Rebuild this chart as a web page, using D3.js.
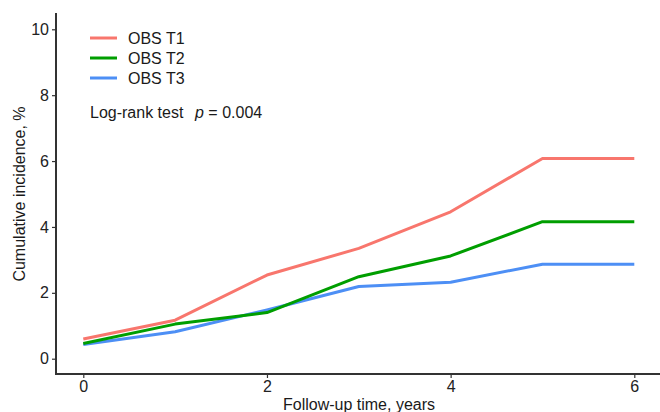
<!DOCTYPE html>
<html>
<head>
<meta charset="utf-8">
<script src="https://cdn.jsdelivr.net/npm/d3@7/dist/d3.min.js"></script>
<style>
  body { margin: 0; background: #fff; }
  svg text { font-family: "Liberation Sans", Arial, sans-serif; fill: #1a1a1a; }
</style>
</head>
<body>
<div id="chart"></div>
<script>
// follow-up years
var years = [0, 1, 2, 3, 4, 5, 6];

// cumulative incidence, %
var obsT1 = [0.60, 1.17, 2.54, 3.35, 4.46, 6.08, 6.08];
var obsT2 = [0.46, 1.05, 1.40, 2.49, 3.12, 4.16, 4.16];
var obsT3 = [0.43, 0.82, 1.48, 2.19, 2.32, 2.87, 2.87];

var seriesNames = ["OBS T1", "OBS T2", "OBS T3"];
var seriesColors = ["#F8766D", "#009E00", "#4D8FF5"];

var xTicks = [0, 2, 4, 6];
var yTicks = [0, 2, 4, 6, 8, 10];

var width = 660,
    height = 412;

var svg = d3.select("#chart").append("svg")
    .attr("width", width)
    .attr("height", height);

// y: 0 -> 358.7, 10 -> 29.3 ; x: 0 -> 83.3, 6 -> 634.3
var x = d3.scaleLinear().domain([0, 6]).range([83.3, 634.3]),
    y = d3.scaleLinear().domain([0, 10]).range([358.7, 29.3]);

var xAxis = d3.axisBottom(x).tickValues(xTicks).tickFormat(d3.format("d")).tickSize(4).tickPadding(3),
    yAxis = d3.axisLeft(y).tickValues(yTicks).tickFormat(d3.format("d")).tickSize(4).tickPadding(3);

var gx = svg.append("g")
    .attr("class", "axis axis--x")
    .attr("transform", "translate(0,374)")
    .call(xAxis);
gx.select(".domain").remove();
gx.append("line")
    .attr("x1", 55).attr("x2", 660)
    .attr("stroke", "#333").attr("stroke-width", 2);

var gy = svg.append("g")
    .attr("class", "axis axis--y")
    .attr("transform", "translate(56,0)")
    .call(yAxis);
gy.select(".domain").remove();
gy.append("line")
    .attr("y1", 13).attr("y2", 375)
    .attr("stroke", "#333").attr("stroke-width", 2);

svg.selectAll(".axis .tick line").attr("stroke", "#333").attr("stroke-width", 1.2);
svg.selectAll(".axis .tick text")
    .attr("font-size", 16)
    .style("fill", "#222");

var data = [obsT1, obsT2, obsT3];

var line = d3.line()
    .x(function(d, i) { return x(years[i]); })
    .y(function(d) { return y(d); });

// draw T3 first so T1 ends up on top
svg.append("g").selectAll("path")
    .data(data.map(function(d, i) { return {vals: d, color: seriesColors[i]}; }).reverse())
    .enter().append("path")
    .attr("d", function(d) { return line(d.vals); })
    .attr("fill", "none")
    .attr("stroke", function(d) { return d.color; })
    .attr("stroke-width", 3)
    .attr("stroke-linejoin", "round");

// legend
var legend = svg.append("g").attr("transform", "translate(90,38)");
seriesNames.forEach(function(name, i) {
    var g = legend.append("g").attr("transform", "translate(0," + (i * 20) + ")");
    g.append("line")
        .attr("x1", 0).attr("x2", 27)
        .attr("stroke", seriesColors[i])
        .attr("stroke-width", 3);
    g.append("text")
        .attr("x", 38).attr("y", 6)
        .attr("font-size", 16)
        .text(name);
});

var stat = svg.append("text")
    .attr("x", 90).attr("y", 118)
    .attr("font-size", 16);
stat.append("tspan").text("Log-rank test");
stat.append("tspan").attr("x", 195).attr("font-style", "italic").text("p");
stat.append("tspan").text(" = 0.004");

// axis titles
svg.append("text")
    .attr("x", 359).attr("y", 410)
    .attr("text-anchor", "middle")
    .attr("font-size", 16)
    .text("Follow-up time, years");

svg.append("text")
    .attr("transform", "translate(25,194) rotate(-90)")
    .attr("text-anchor", "middle")
    .attr("font-size", 16)
    .text("Cumulative incidence, %");
</script>
</body>
</html>
